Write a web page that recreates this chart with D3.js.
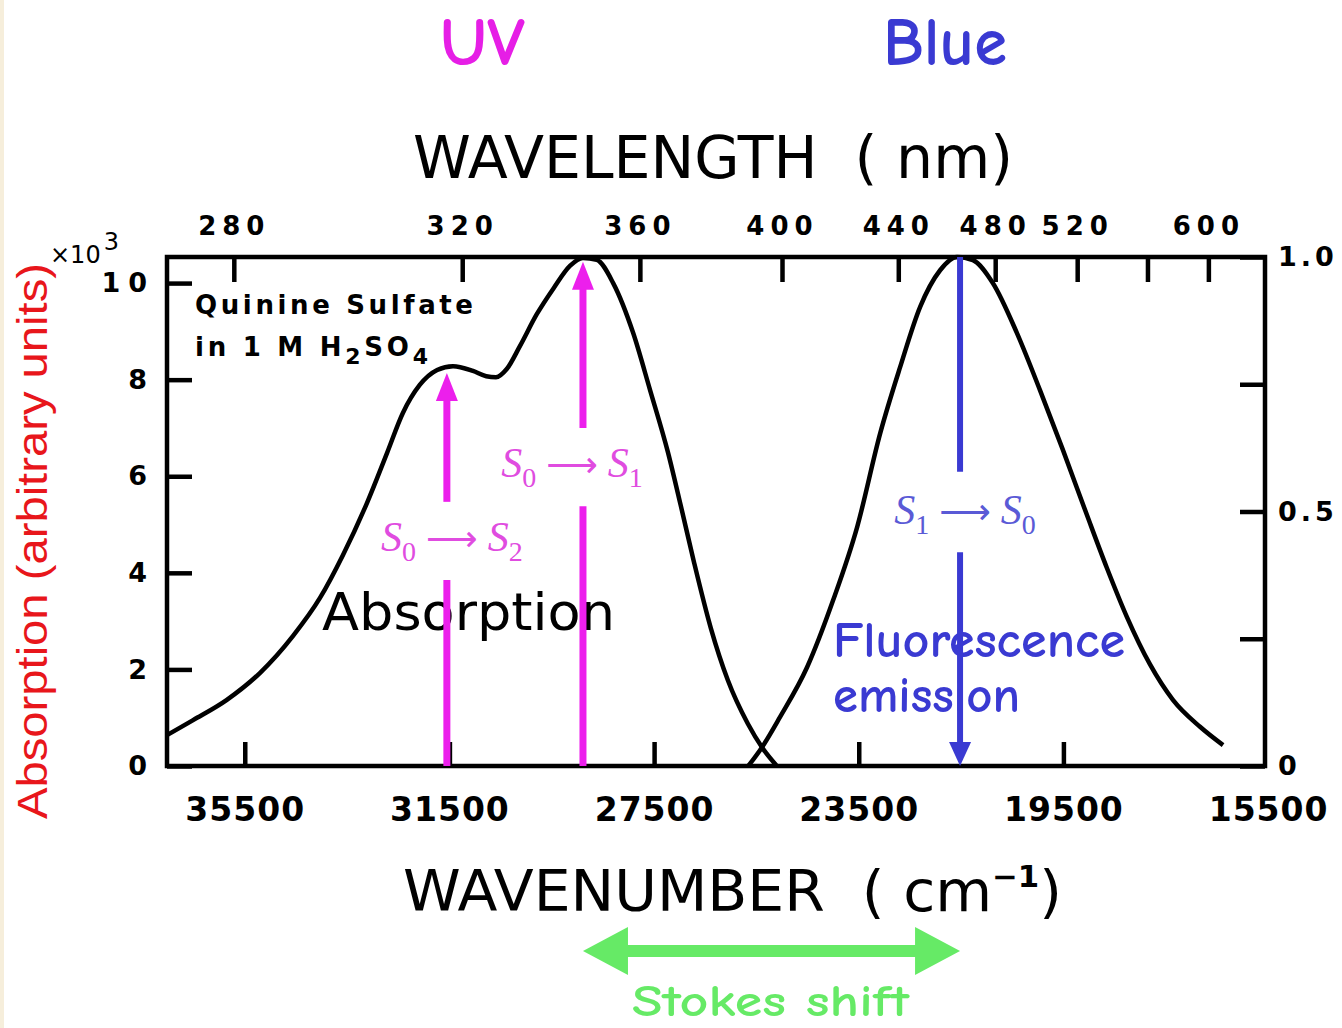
<!DOCTYPE html>
<html><head><meta charset="utf-8">
<script src="https://cdn.jsdelivr.net/npm/d3@7"></script>
<style>body{margin:0;background:#fff} text{white-space:pre}</style>
</head><body>
<svg id="c" width="1342" height="1028" xmlns="http://www.w3.org/2000/svg"></svg>
<script>
// ---------- data ----------
const absWavenumber = [37020,36510,35850,35200,34560,34030,33580,33110,32720,32410,32080,31740,31430,31040,30780,30590,30380,30120,29790,29460,29140,28890,28620,28300,27910,27580,27230,26980,26720,26390,26060,25670,25360,25100];
const absValue      = [0.64,0.95,1.37,1.93,2.69,3.48,4.37,5.45,6.48,7.31,7.89,8.20,8.28,8.18,8.07,8.05,8.22,8.70,9.36,9.90,10.36,10.52,10.48,10.00,8.97,7.79,6.50,5.40,4.22,2.85,1.78,0.88,0.34,0.0];
const fluWavenumber = [25660,25390,25040,24510,24000,23530,23080,22690,22300,21910,21580,21270,20880,20410,19960,19510,19040,18650,18260,17810,17360,16830,16380];
const fluValue      = [0,0.037,0.096,0.194,0.326,0.470,0.654,0.784,0.902,0.974,1.0,0.994,0.949,0.851,0.739,0.621,0.493,0.389,0.293,0.200,0.130,0.077,0.041];

const wavenumberTicks  = [35500,31500,27500,23500,19500,15500];
const wavelengthTicks  = [280,320,360,400,440,480,520,560,600];
const wavelengthLabels = ["280","320","360","400","440","480","520","","600"];
const absTicks  = [0,2,4,6,8,10];
const fluTicks  = [0,0.25,0.5,0.75,1.0];
const fluLabels = ["0","","0.5","","1.0"];

const excitationWavenumber = [31550, 28890];
const excitationTop        = [8.14, 10.44];
const excitationGap        = [[3.85, 5.47], [5.38, 7.0]];
const excitationSubs       = [["0","2"], ["0","1"]];
const emissionWavenumber   = [21520];
const emissionTop          = [1.0];
const emissionGap          = [[0.42, 0.578]];
const emissionSubs         = [["1","0"]];
const stokesShift          = [28890, 21520];

// ---------- layout ----------
const svg = d3.select("#c");
const M = {left:167, right:1265, top:257, bottom:766};
const x  = d3.scaleLinear().domain([37020,15560]).range([M.left, M.right]);
const yA = d3.scaleLinear().domain([0,10.54]).range([M.bottom, M.top]);
const yF = d3.scaleLinear().domain([0,1]).range([M.bottom, M.top]);

const MAG = "#ec1fec", MAGL = "#e04ce0", BLU = "#3a3ad2", BLUL = "#5a5ad6", GRN = "#66ea66";
const comic = "'Comic Sans MS','Comic Neue',Lato,'Open Sans',sans-serif";
const gothic = "'DejaVu Sans',Verdana,sans-serif";

svg.append("rect").attr("x",0).attr("y",0).attr("width",1342).attr("height",1028).attr("fill","#fff");
svg.append("rect").attr("x",0).attr("y",0).attr("width",4).attr("height",1028).attr("fill","#f6eedb");

// ---------- axes ----------
function styleAxis(g, fs, ls) {
  g.attr("font-family", gothic).attr("font-size", fs).attr("font-weight","bold");
  g.select(".domain").remove();
  g.selectAll(".tick line").attr("stroke","#000").attr("stroke-width",4.5);
  g.selectAll(".tick text").attr("fill","#000").attr("letter-spacing", ls);
}
const gB = svg.append("g").attr("transform",`translate(0,${M.bottom})`)
  .call(d3.axisBottom(x).tickValues(wavenumberTicks).tickSize(-24).tickPadding(32).tickFormat(d3.format("d")));
styleAxis(gB, 33, 1);
gB.selectAll(".tick line").attr("display", d => x(d) > M.right - 3 ? "none" : null);

const gT = svg.append("g").attr("transform",`translate(0,${M.top})`)
  .call(d3.axisTop(x).tickValues(wavelengthTicks.map(l => 1e7 / l)).tickSize(-25).tickPadding(22)
        .tickFormat((d,i) => wavelengthLabels[i]));
styleAxis(gT, 26, 6);

const gL = svg.append("g").attr("transform",`translate(${M.left},0)`)
  .call(d3.axisLeft(yA).tickValues(absTicks).tickSize(-25).tickPadding(12).tickFormat(d3.format("d")));
styleAxis(gL, 27, 8);

const gR = svg.append("g").attr("transform",`translate(${M.right},0)`)
  .call(d3.axisRight(yF).tickValues(fluTicks).tickSize(-25).tickPadding(13)
        .tickFormat((d,i) => fluLabels[i]));
styleAxis(gR, 27, 4);

// frame
svg.append("rect").attr("x",M.left).attr("y",M.top).attr("width",M.right-M.left).attr("height",M.bottom-M.top)
  .attr("fill","none").attr("stroke","#000").attr("stroke-width",4.5);

// x10^3
const mult = svg.append("text").attr("x",50).attr("y",263).attr("font-family",gothic).attr("font-size",24).attr("fill","#000");
mult.append("tspan").text("×10");
mult.append("tspan").attr("dx",3).attr("dy",-13).text("3");

// ---------- curves ----------
const absData = absWavenumber.map((w,i) => [w, absValue[i]]);
const fluData = fluWavenumber.map((w,i) => [w, fluValue[i]]);
svg.append("path").datum(absData)
  .attr("d", d3.line().x(d => x(d[0])).y(d => yA(d[1])).curve(d3.curveMonotoneX))
  .attr("fill","none").attr("stroke","#000").attr("stroke-width",4.5).attr("stroke-linejoin","round");
svg.append("path").datum(fluData)
  .attr("d", d3.line().x(d => x(d[0])).y(d => yF(d[1])).curve(d3.curveMonotoneX))
  .attr("fill","none").attr("stroke","#000").attr("stroke-width",4.5).attr("stroke-linejoin","round");

// ---------- texts inside plot ----------
svg.append("text").attr("x",195).attr("y",314).attr("font-family",gothic).attr("font-weight","bold")
  .attr("font-size",26).attr("fill","#000").attr("textLength",278).text("Quinine Sulfate");
const q2 = svg.append("text").attr("x",195).attr("y",356).attr("font-family",gothic).attr("font-weight","bold")
  .attr("font-size",26).attr("fill","#000");
q2.append("tspan").text("in 1 M H");
q2.append("tspan").attr("dy",8).attr("font-size",22).text("2");
q2.append("tspan").attr("dy",-8).text("SO");
q2.append("tspan").attr("dy",8).attr("font-size",22).text("4");
q2.attr("textLength",233).attr("lengthAdjust","spacing");

svg.append("text").attr("x",322).attr("y",630).attr("font-family",gothic).attr("font-size",51)
  .attr("fill","#000").attr("textLength",293).attr("lengthAdjust","spacingAndGlyphs").text("Absorption");
svg.append("text").attr("x",833).attr("y",657).attr("font-family",comic).attr("font-weight","bold").attr("font-size",50)
  .attr("fill",BLU).attr("textLength",292).attr("lengthAdjust","spacingAndGlyphs").text("Fluorescence");
svg.append("text").attr("x",833).attr("y",712).attr("font-family",comic).attr("font-weight","bold").attr("font-size",50)
  .attr("fill",BLU).attr("textLength",187).attr("lengthAdjust","spacingAndGlyphs").text("emission");

// ---------- transition arrows ----------
function stateLabel(cx, baseline, subs, color) {
  const t = svg.append("text").attr("x",cx).attr("y",baseline).attr("text-anchor","middle")
    .attr("font-family","'Liberation Serif','DejaVu Serif',serif").attr("font-size",42).attr("fill",color);
  t.append("tspan").attr("font-style","italic").text("S");
  t.append("tspan").attr("font-size",28).attr("dy",10).text(subs[0]);
  t.append("tspan").attr("dy",-10).attr("font-size",40).text(" ");
  t.append("tspan").attr("font-family","'DejaVu Sans',sans-serif").attr("font-size",36).text("\u27F6");
  t.append("tspan").attr("font-size",40).text(" ");
  t.append("tspan").attr("font-style","italic").text("S");
  t.append("tspan").attr("font-size",28).attr("dy",10).text(subs[1]);
}
function arrow(px, yTail, yTip, gA, gB2, color, hw, hl, lw) {
  const dir = yTip < yTail ? -1 : 1;
  const near = Math.abs(gA - yTail) < Math.abs(gB2 - yTail) ? gA : gB2;
  const far  = near === gA ? gB2 : gA;
  const base = yTip - dir * hl;
  svg.append("line").attr("x1",px).attr("x2",px).attr("y1",yTail).attr("y2",near)
    .attr("stroke",color).attr("stroke-width",lw);
  svg.append("line").attr("x1",px).attr("x2",px).attr("y1",far).attr("y2",base + dir*2)
    .attr("stroke",color).attr("stroke-width",lw);
  svg.append("path").attr("d",`M${px},${yTip}L${px-hw/2},${base}L${px+hw/2},${base}Z`).attr("fill",color);
}
excitationWavenumber.forEach((w,i) => {
  const px = x(w);
  arrow(px, yA(0), yA(excitationTop[i]), yA(excitationGap[i][0]), yA(excitationGap[i][1]), MAG, 22, 28, 7);
  const mid = (yA(excitationGap[i][0]) + yA(excitationGap[i][1])) / 2;
  stateLabel(px + (i === 0 ? 5 : -11), mid + 10, excitationSubs[i], MAGL);
});
emissionWavenumber.forEach((w,i) => {
  const px = x(w);
  arrow(px, yF(emissionTop[i]), yF(0), yF(emissionGap[i][0]), yF(emissionGap[i][1]), BLU, 22, 24, 6);
  const mid = (yF(emissionGap[i][0]) + yF(emissionGap[i][1])) / 2;
  stateLabel(px + 5, mid + 12, emissionSubs[i], BLUL);
});

// ---------- titles ----------
svg.append("text").attr("x",440).attr("y",65).attr("font-family",comic).attr("font-weight",600).attr("font-size",68)
  .attr("fill","#e61ee6").attr("textLength",85).attr("lengthAdjust","spacingAndGlyphs").text("UV");
svg.append("text").attr("x",883).attr("y",65).attr("font-family",comic).attr("font-weight",600).attr("font-size",68)
  .attr("fill",BLU).attr("textLength",124).attr("lengthAdjust","spacingAndGlyphs").text("Blue");
svg.append("text").attr("x",413).attr("y",178).attr("font-family",gothic).attr("font-size",58)
  .attr("fill","#000").attr("textLength",600).attr("lengthAdjust","spacingAndGlyphs").text("WAVELENGTH  ( nm)");

const wn = svg.append("text").attr("x",403).attr("y",911).attr("font-family",gothic).attr("font-size",57).attr("fill","#000");
wn.append("tspan").text("WAVENUMBER  ( cm");
wn.append("tspan").attr("font-size",30).attr("font-weight","bold").attr("dy",-24).text("\u22121");
wn.append("tspan").attr("dy",24).text(")");
wn.attr("textLength",659).attr("lengthAdjust","spacingAndGlyphs");

svg.append("text").attr("transform","translate(47,541) rotate(-90)").attr("text-anchor","middle")
  .attr("font-family","'Liberation Sans',Arial,sans-serif").attr("font-size",42).attr("fill","#e8161b")
  .attr("textLength",556).attr("lengthAdjust","spacingAndGlyphs").text("Absorption (arbitrary units)");

// ---------- Stokes shift ----------
const sx0 = x(stokesShift[0]), sx1 = x(stokesShift[1]), sy = 951, hL = 45, hH = 48, th = 12;
svg.append("path")
  .attr("d",`M${sx0},${sy}L${sx0+hL},${sy-hH/2}L${sx0+hL},${sy-th/2}L${sx1-hL},${sy-th/2}L${sx1-hL},${sy-hH/2}L${sx1},${sy}`+
            `L${sx1-hL},${sy+hH/2}L${sx1-hL},${sy+th/2}L${sx0+hL},${sy+th/2}L${sx0+hL},${sy+hH/2}Z`)
  .attr("fill",GRN);
svg.append("text").attr("x",632).attr("y",1016).attr("font-family",comic).attr("font-weight",600).attr("font-size",44)
  .attr("fill",GRN).attr("textLength",277).attr("lengthAdjust","spacingAndGlyphs").text("Stokes shift");
</script>
</body></html>
